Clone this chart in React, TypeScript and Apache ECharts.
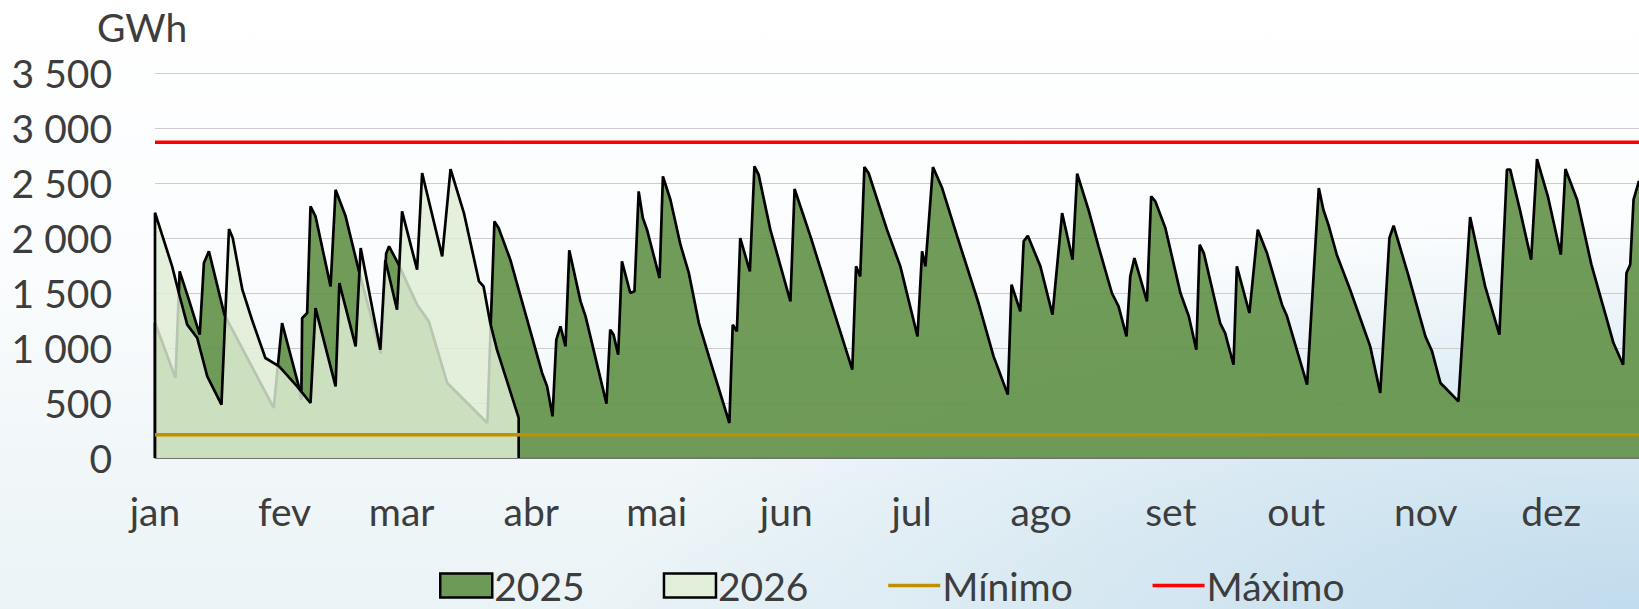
import React, { useEffect, useRef } from 'react';
import * as echarts from 'echarts';

// Month labels and the day of the year each month starts on
const months = ['jan', 'fev', 'mar', 'abr', 'mai', 'jun', 'jul', 'ago', 'set', 'out', 'nov', 'dez'];
const monthStartDays = [0, 31, 59, 90, 120, 151, 181, 212, 243, 273, 304, 334];
const xEndDay = 355;

// Y ticks
const yMin = 0;
const yMax = 3500;
const yStep = 500;

// 2025 series: [day of year, GWh]
const series2025: [number, number][] = [
  [0, 0], [0, 1230], [4.9, 727], [5.9, 1697], [8.1, 1440], [10.7, 1121], [11.7, 1773], [12.9, 1879],
  [16.6, 1303], [28.4, 455], [30.4, 1227], [34.4, 651], [35.0, 530], [35.2, 1272], [36.4, 1318],
  [37.2, 2288], [38.4, 2197], [42.0, 1560], [43.2, 2439], [45.6, 2197], [48.7, 1712], [54.0, 950],
  [55.3, 1860], [56.0, 1924], [58.3, 1757], [62.7, 1394], [65.5, 1242], [69.9, 682], [79.5, 318],
  [80.3, 1200], [81.2, 2151], [82.2, 2091], [85.0, 1803], [87.0, 1530], [90.6, 1045], [92.6, 773],
  [93.8, 651], [95.1, 379], [96.0, 1076], [97.0, 1197], [98.2, 1015], [99.1, 1888], [101.8, 1424],
  [103.0, 1288], [108.0, 494], [108.9, 1167], [109.7, 1121], [110.8, 939], [111.7, 1788], [113.7, 1500],
  [114.7, 1515], [115.7, 2424], [116.7, 2182], [117.7, 2076], [120.7, 1636], [121.5, 2560], [123.3, 2348],
  [125.7, 1939], [127.7, 1682], [130.1, 1227], [132.5, 924], [137.4, 318], [138.2, 1212], [139.2, 1151],
  [140.0, 2000], [142.3, 1697], [143.4, 2651], [144.4, 2576], [147.2, 2076], [152.0, 1424], [153.0, 2445],
  [156.8, 2015], [162.4, 1333], [166.8, 803], [167.7, 1742], [168.7, 1651], [169.7, 2645], [170.7, 2591],
  [175.1, 2076], [178.3, 1742], [182.4, 1106], [183.5, 1879], [184.3, 1742], [186.1, 2645], [188.3, 2454],
  [191.9, 2015], [197.0, 1409], [200.6, 924], [201.8, 803], [204.0, 576], [204.9, 1576], [207.0, 1333],
  [207.8, 1970], [208.8, 2021], [211.8, 1742], [214.7, 1303], [217.0, 2227], [219.5, 1803], [220.6, 2585],
  [223.3, 2257], [225.7, 1924], [228.9, 1500], [230.5, 1379], [232.4, 1106], [233.3, 1651], [234.3, 1818],
  [237.3, 1424], [238.3, 2379], [239.3, 2333], [241.7, 2091], [245.3, 1500], [247.3, 1288], [249.1, 985],
  [249.9, 1939], [250.9, 1863], [254.8, 1227], [256.0, 1136], [258.0, 848], [258.8, 1742], [261.8, 1318],
  [263.8, 2076], [266.0, 1863], [269.6, 1394], [270.8, 1288], [275.6, 667], [278.4, 2454], [279.5, 2257],
  [280.7, 2121], [282.7, 1848], [285.9, 1530], [290.7, 1015], [293.1, 591], [295.3, 2000], [296.3, 2112],
  [299.9, 1651], [303.9, 1106], [305.5, 970], [307.5, 682], [308.7, 636], [311.8, 515], [314.6, 2191],
  [318.2, 1560], [321.6, 1121], [323.4, 2621], [324.2, 2621], [326.6, 2242], [329.2, 1803], [330.6, 2718],
  [333.2, 2379], [336.3, 1848], [337.4, 2627], [340.2, 2348], [343.6, 1760], [348.9, 1045], [351.2, 848],
  [352.0, 1682], [352.9, 1758], [353.7, 2348], [355.0, 2520],
];

// 2026 series: [day of year, GWh]
const series2026: [number, number][] = [
  [0, 0], [0, 2230], [4.1, 1742], [5.7, 1500], [7.7, 1212], [10.1, 1091], [12.5, 742], [15.9, 485],
  [17.7, 2082], [18.6, 2000], [20.9, 1530], [23.2, 1257], [26.4, 909], [29.7, 833], [34.0, 651],
  [37.2, 500], [38.4, 1363], [43.2, 651], [44.1, 1590], [48.0, 1015], [49.2, 1909], [53.9, 985],
  [55.1, 1800], [57.9, 1348], [59.1, 2242], [62.7, 1712], [63.9, 2591], [68.7, 1833], [70.7, 2627],
  [73.9, 2227], [77.5, 1606], [78.6, 1560], [80.2, 1227], [81.8, 985], [87.0, 364], [87.0, 0],
];

const minimoValue = 212;
const maximoValue = 2870;

const FONT = 'Lato, "Noto Sans", sans-serif';
const TEXT = '#3d3d3d';
const GREEN = '#6E9A57';
const GREEN_FILL = 'rgba(96,144,70,0.9)';
const LIGHT = '#E2EFDA';
const LIGHT_FILL = 'rgba(222,237,212,0.83)';

const fmt = (v: number) => String(v).replace(/\B(?=(\d{3})+(?!\d))/g, ' ');

export default function App() {
  const ref = useRef<HTMLDivElement>(null);
  useEffect(() => {
    document.body.style.margin = '0';
    const chart = echarts.init(ref.current!, null, { renderer: 'svg' });
    chart.setOption({
      animation: false,
      backgroundColor: 'transparent',
      title: {
        text: 'GWh',
        left: 97,
        top: 7,
        padding: 0,
        textStyle: { fontSize: 39, fontWeight: 'normal', color: TEXT, fontFamily: FONT },
      },
      grid: { left: 155, right: 0, top: 73, bottom: 151, containLabel: false },
      xAxis: {
        type: 'value',
        min: 0,
        max: xEndDay,
        splitLine: { show: false },
        axisTick: { show: false },
        axisLine: { show: true, lineStyle: { color: '#555', width: 1.5 } },
        axisLabel: {
          customValues: monthStartDays,
          showMinLabel: true,
          margin: 33,
          fontSize: 39,
          fontFamily: FONT,
          color: TEXT,
          formatter: (v: number) => {
            const i = monthStartDays.indexOf(v);
            return i >= 0 ? months[i] : '';
          },
        },
      },
      yAxis: {
        type: 'value',
        min: yMin,
        max: yMax,
        interval: yStep,
        axisLine: { show: false },
        axisTick: { show: false },
        splitLine: { lineStyle: { color: '#CDCDCD', width: 1.2 } },
        axisLabel: { margin: 43, fontSize: 39, fontFamily: FONT, color: TEXT, formatter: fmt },
      },
      legend: {
        left: 434,
        top: 561,
        itemWidth: 52,
        itemHeight: 24,
        itemGap: 78,
        selectedMode: false,
        textStyle: { fontSize: 39, fontFamily: FONT, color: TEXT, padding: [0, 0, 0, -3] },
        data: [
          { name: '2025', icon: 'rect', itemStyle: { color: GREEN, borderColor: '#000', borderWidth: 2.5 } },
          { name: '2026', icon: 'rect', itemStyle: { color: LIGHT, borderColor: '#000', borderWidth: 2.5 } },
          { name: 'Mínimo', itemStyle: { opacity: 0 }, lineStyle: { color: '#BF9000', width: 3.5 } },
          { name: 'Máximo', itemStyle: { opacity: 0 }, lineStyle: { color: '#FF0000', width: 3.5 } },
        ],
      },
      series: [
        {
          name: '2025',
          type: 'line',
          z: 2,
          data: series2025,
          symbol: 'none',
          silent: true,
          lineStyle: { color: '#000', width: 2.7 },
          itemStyle: { color: GREEN },
          areaStyle: { color: GREEN_FILL, opacity: 1 },
        },
        {
          name: '2026',
          type: 'line',
          z: 3,
          data: series2026,
          symbol: 'none',
          silent: true,
          lineStyle: { color: '#000', width: 2.7 },
          itemStyle: { color: LIGHT },
          areaStyle: { color: LIGHT_FILL, opacity: 1 },
        },
        {
          name: 'Mínimo',
          type: 'line',
          z: 4,
          data: [[0, minimoValue], [xEndDay, minimoValue]],
          symbol: 'none',
          silent: true,
          lineStyle: { color: '#BF9000', width: 3.5 },
          itemStyle: { color: '#BF9000' },
        },
        {
          name: 'Máximo',
          type: 'line',
          z: 4,
          data: [[0, maximoValue], [xEndDay, maximoValue]],
          symbol: 'none',
          silent: true,
          lineStyle: { color: '#FF0000', width: 3.5 },
          itemStyle: { color: '#FF0000' },
        },
      ],
    });
    return () => chart.dispose();
  }, []);
  return (
    <div
      ref={ref}
      style={{
        position: 'fixed',
        left: 0,
        top: 0,
        width: 1639,
        height: 609,
        background:
          'radial-gradient(ellipse at 100% 100%, rgba(185,215,235,0.85) 0%, rgba(185,215,235,0) 45%), linear-gradient(to bottom, #ffffff 0%, #fafcfd 45%, #eaf3f6 100%)',
      }}
    />
  );
}
